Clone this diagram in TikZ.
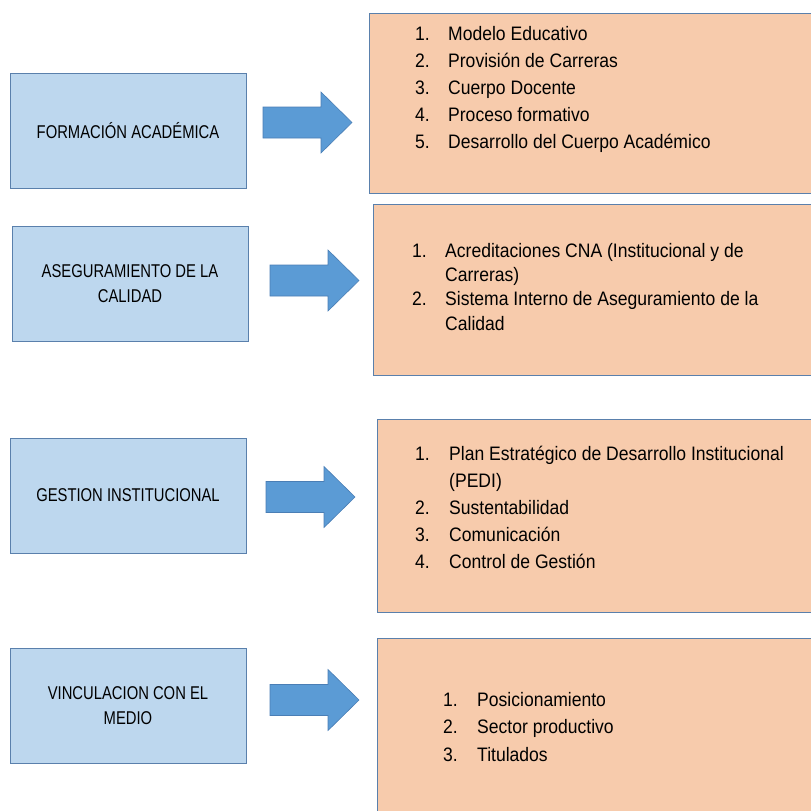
\documentclass[tikz,border=0pt]{standalone}
\usepackage{fontspec}
\usepackage{array}
\newfontfamily\headfont[FakeStretch=0.8]{Liberation Sans}
\newfontfamily\listfont[FakeStretch=0.9]{Liberation Sans}
\definecolor{boxblue}{HTML}{BDD7EE}
\definecolor{boxpeach}{HTML}{F7CBAC}
\definecolor{edgeblue}{HTML}{5A80AC}
\definecolor{arrowblue}{HTML}{5B9BD5}
\definecolor{arrowedge}{HTML}{4A7EB5}
\newcommand{\stepnum}[1]{\makebox[33pt][l]{#1}}
\begin{document}
\begin{tikzpicture}[x=1pt,y=-1pt,
  bluebox/.style={draw=edgeblue,fill=boxblue,line width=0.9pt,rectangle,
    anchor=north west,inner sep=0pt,outer sep=0pt,minimum width=236pt,
    minimum height=115pt,align=center,
    font=\headfont\fontsize{18.5}{25}\selectfont},
  peachbox/.style={draw=edgeblue,fill=boxpeach,line width=0.9pt,rectangle,
    anchor=north west,inner sep=0pt,outer sep=0pt,minimum width=470pt},
  listtext/.style={anchor=base west,inner sep=0pt,align=left},
  blockarrow/.pic={
    \path[fill=arrowblue,draw=arrowedge,line width=0.6pt]
      (0,-15.5) -- (58,-15.5) -- (58,-30.5) -- (89,0) -- (58,30.5)
      -- (58,15.5) -- (0,15.5) -- cycle;}
]
\clip (0,0) rectangle (811,811);
\useasboundingbox (0,0) rectangle (811,811);

% left column: the four areas
\node[bluebox] (formacion) at (10,73) {FORMACIÓN ACADÉMICA};
\node[bluebox] (aseguramiento) at (12,226) {ASEGURAMIENTO DE LA\\CALIDAD};
\node[bluebox] (gestion) at (10,438) {GESTION INSTITUCIONAL};
\node[bluebox] (vinculacion) at (10,648) {VINCULACION CON EL\\MEDIO};

% block arrows
\pic (arrowA) at (263,122.5) {blockarrow};
\pic (arrowB) at (270,280.5) {blockarrow};
\pic (arrowC) at (266,497) {blockarrow};
\pic (arrowD) at (270,700) {blockarrow};

% right column: detail panels
\node[peachbox,minimum height=180pt] (panelA) at (369,13) {};
\node[peachbox,minimum height=171pt] (panelB) at (373,204) {};
\node[peachbox,minimum height=193pt] (panelC) at (377,419) {};
\node[peachbox,minimum height=200pt] (panelD) at (377,638) {};

% lists
\node[listtext] (listA) at (415,40) {\listfont\fontsize{19.5}{27.2}\selectfont
  \begin{tabular}[t]{@{}l@{}l@{}}
  \stepnum{1.} & Modelo Educativo\\
  \stepnum{2.} & Provisión de Carreras\\
  \stepnum{3.} & Cuerpo Docente\\
  \stepnum{4.} & Proceso formativo\\
  \stepnum{5.} & Desarrollo del Cuerpo Académico
  \end{tabular}};

\node[listtext] (listB) at (412,257) {\listfont\fontsize{19.5}{24.4}\selectfont
  \begin{tabular}[t]{@{}l@{}l@{}}
  \stepnum{1.} & Acreditaciones CNA (Institucional y de\\
   & Carreras)\\
  \stepnum{2.} & Sistema Interno de Aseguramiento de la\\
   & Calidad
  \end{tabular}};

\node[listtext] (listC) at (415,460) {\listfont\fontsize{19.5}{27}\selectfont
  \begin{tabular}[t]{@{}l@{}l@{}}
  \makebox[34pt][l]{1.} & Plan Estratégico de Desarrollo Institucional\\
   & (PEDI)\\
  \makebox[34pt][l]{2.} & Sustentabilidad\\
  \makebox[34pt][l]{3.} & Comunicación\\
  \makebox[34pt][l]{4.} & Control de Gestión
  \end{tabular}};

\node[listtext] (listD) at (443,706) {\listfont\fontsize{19.5}{27.5}\selectfont
  \begin{tabular}[t]{@{}l@{}l@{}}
  \makebox[34pt][l]{1.} & Posicionamiento\\
  \makebox[34pt][l]{2.} & Sector productivo\\
  \makebox[34pt][l]{3.} & Titulados
  \end{tabular}};
\end{tikzpicture}
\end{document}
